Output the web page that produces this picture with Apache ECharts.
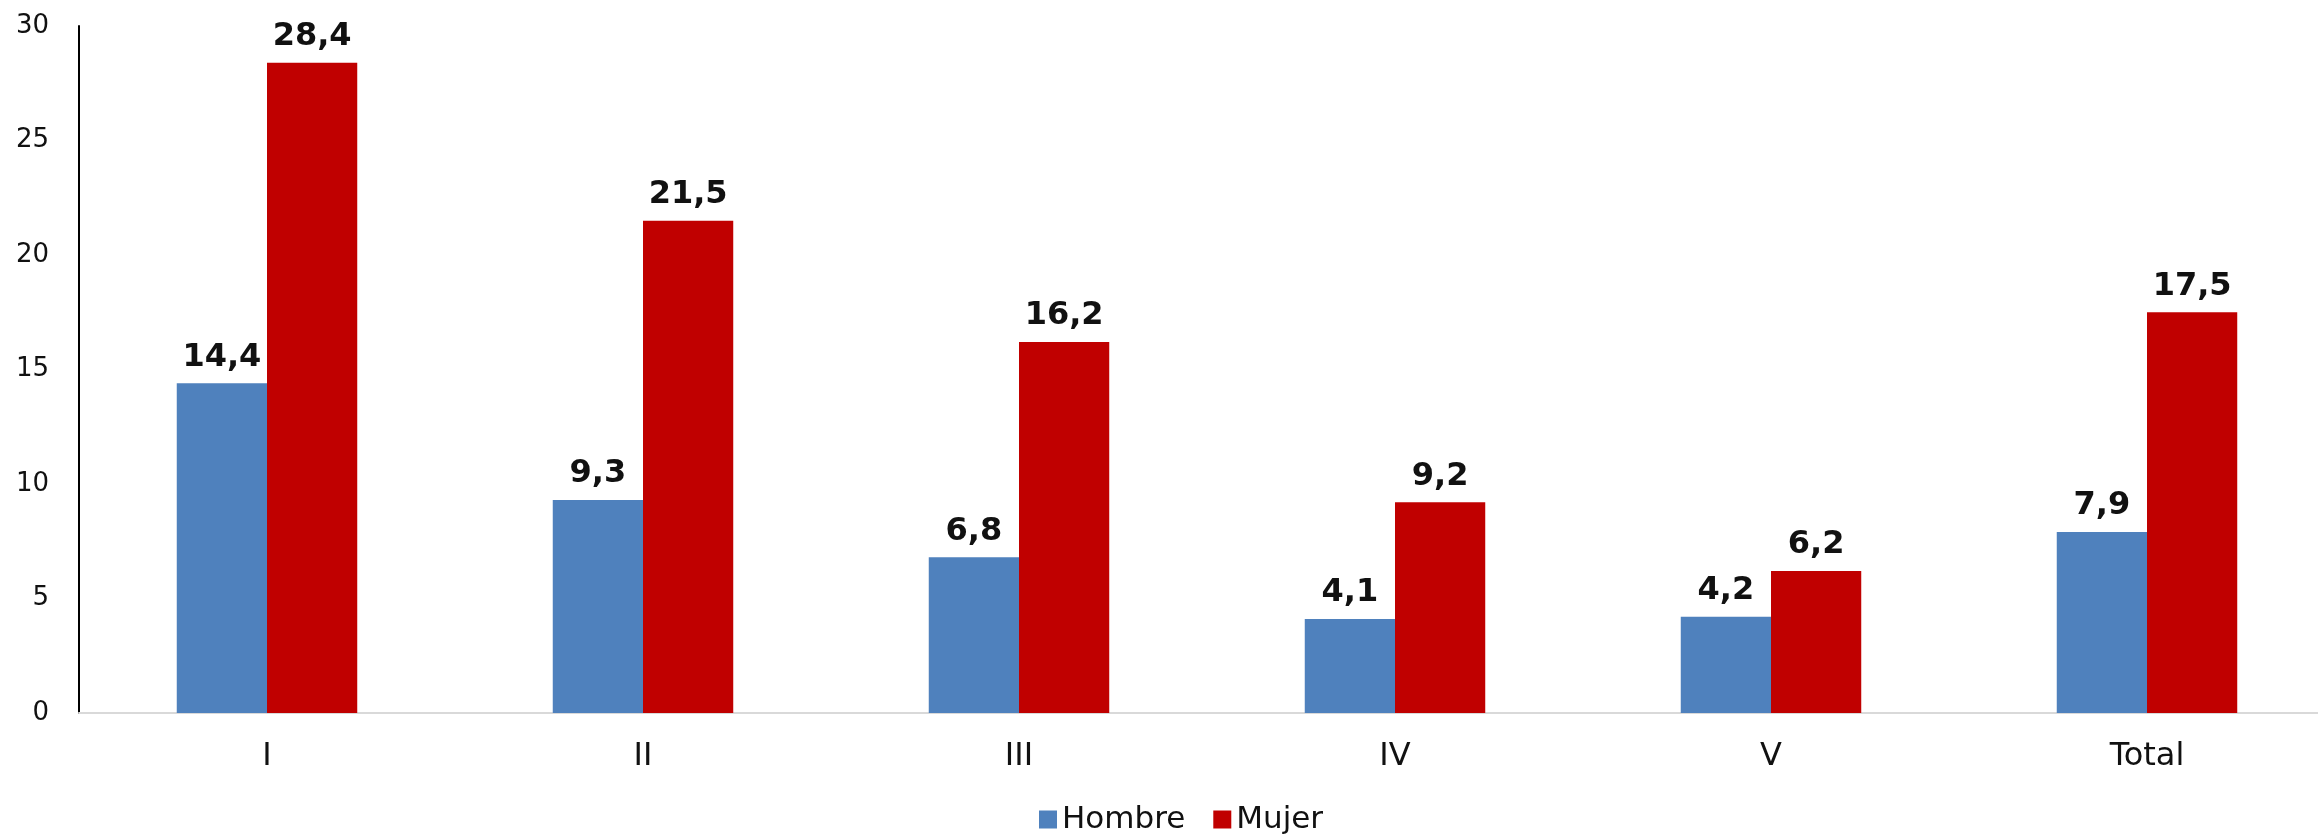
<!DOCTYPE html>
<html>
<head>
<meta charset="utf-8">
<script src="https://cdn.jsdelivr.net/npm/echarts@6/dist/echarts.min.js"></script>
<style>
  html, body { margin: 0; padding: 0; background: #fff; overflow: hidden; }
  #chart { width: 2335px; height: 834px; }
</style>
</head>
<body>
<div id="chart"></div>
<script>
const categories = ['I', 'II', 'III', 'IV', 'V', 'Total'];
const hombre = [14.4, 9.3, 6.8, 4.1, 4.2, 7.9];
const mujer = [28.4, 21.5, 16.2, 9.2, 6.2, 17.5];
const yTicks = { min: 0, max: 30, interval: 5 };

const fontFamily = '"DejaVu Sans", Verdana, sans-serif';
const fontColor = '#000';
const colors = ['#4f81bd', '#c00000'];

// the plot area runs a bit past the right edge of the picture, so the div is wider than the window
const chart = echarts.init(document.getElementById('chart'));

const labelStyle = {
  show: true,
  position: 'top',
  distance: 10,
  color: '#111',
  fontFamily: fontFamily,
  fontWeight: 'bold',
  fontSize: 32,
  formatter: p => String(p.value).replace('.', ',')
};

const option = {
  animation: false,
  color: colors,
  grid: { left: 79, right: 0, top: 26, bottom: 121, containLabel: false },
  legend: {
    top: 804,
    left: 1039,
    padding: 0,
    icon: 'rect',
    itemWidth: 18,
    itemHeight: 18,
    itemGap: 28,
    textStyle: { fontFamily: fontFamily, fontSize: 31, color: '#111' }
  },
  xAxis: {
    type: 'category',
    data: categories,
    axisLine: { lineStyle: { color: '#d9d9d9', width: 2 } },
    axisTick: { show: false },
    axisLabel: { color: '#111', fontFamily: fontFamily, fontSize: 32, margin: 28 }
  },
  yAxis: {
    type: 'value',
    min: yTicks.min,
    max: yTicks.max,
    interval: yTicks.interval,
    axisLine: { show: true, lineStyle: { color: fontColor, width: 2 } },
    axisTick: { show: false },
    splitLine: { show: false },
    axisLabel: { color: '#111', fontFamily: fontFamily, fontSize: 26, margin: 30 }
  },
  series: [
    {
      name: 'Hombre',
      type: 'bar',
      data: hombre,
      barGap: '0%',
      barCategoryGap: '52%',
      label: labelStyle
    },
    {
      name: 'Mujer',
      type: 'bar',
      data: mujer,
      label: labelStyle
    }
  ]
};

chart.setOption(option);
</script>
</body>
</html>
